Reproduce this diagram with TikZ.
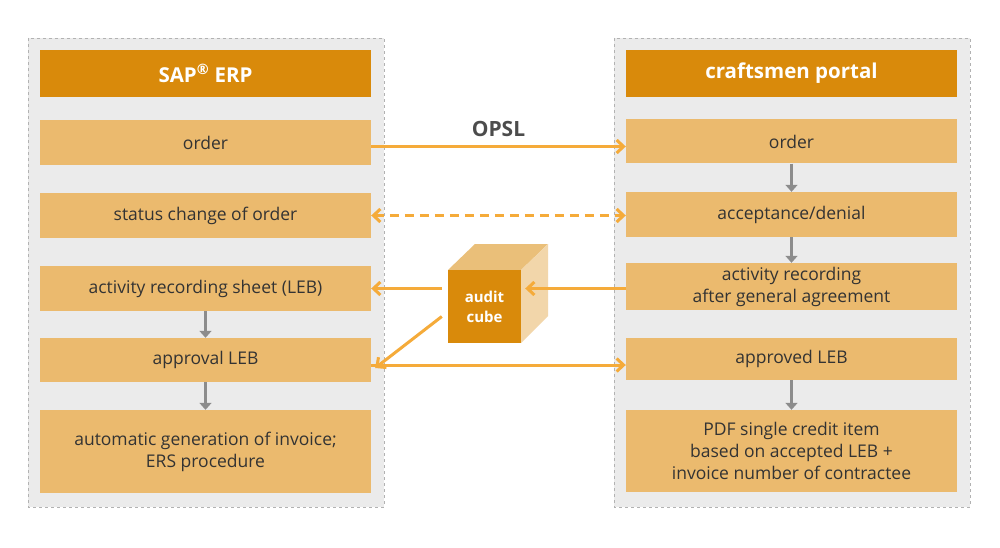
\documentclass[tikz,border=0pt]{standalone}
\usepackage{fontspec}
\setmainfont{Open Sans}
\usetikzlibrary{arrows.meta,positioning}
\definecolor{hdr}{HTML}{D98A0B}
\definecolor{boxc}{HTML}{EBBA6E}
\definecolor{panelc}{HTML}{EBEBEB}
\definecolor{flow}{HTML}{F5AB3A}
\definecolor{step}{HTML}{8C8C8C}
\tikzset{x=1pt, y=-1pt, font=\fontsize{17.5}{22}\selectfont}
\tikzset{panel/.style={draw=gray!60, dashed, fill=panelc, line width=0.6pt}}
\tikzset{head/.style={fill=hdr, text=white, font=\fontsize{20.5}{24}\selectfont\bfseries, minimum width=331pt, minimum height=47pt, inner sep=0pt}}
\tikzset{block/.style={fill=boxc, text=black!80, align=center, minimum width=331pt, inner sep=0pt}}
\tikzset{flowarr/.style={draw=flow, line width=3pt, -{Straight Barb[length=7pt,width=13pt]}}}
\tikzset{steparr/.style={draw=step, line width=3pt, -{Triangle[length=7pt,width=12pt]}}}
\begin{document}
\begin{tikzpicture}
\useasboundingbox (0,0) rectangle (1000,548);
\fill[white] (0,0) rectangle (1000,548);
\draw[panel] (28,38) rectangle (384,507);
\draw[panel] (614,38) rectangle (970,507);

% left column
\node[head] (sap) at (205.5,73.5) {SAP\textsuperscript{®} ERP};
\node[block, minimum height=45pt] (l_order) at (205.5,142.5) {order};
\node[block, minimum height=45pt] (l_status) at (205.5,215.5) {status change of order};
\node[block, minimum height=45pt] (l_leb) at (205.5,288.5) {activity recording sheet (LEB)};
\node[block, minimum height=44pt] (l_appr) at (205.5,360) {approval LEB};
\node[block, minimum height=83pt] (l_inv) at (205.5,451.5) {automatic generation of invoice;\\ERS procedure};

% right column
\node[head] (portal) at (791.5,73.5) {craftsmen portal};
\node[block, minimum height=44pt] (r_order) at (791.5,141.5) {order};
\node[block, minimum height=45pt] (r_acc) at (791.5,214.5) {acceptance/denial};
\node[block, minimum height=47pt] (r_rec) at (791.5,286.5) {activity recording\\after general agreement};
\node[block, minimum height=42pt] (r_appr) at (791.5,359) {approved LEB};
\node[block, minimum height=82pt] (r_pdf) at (791.5,451) {PDF single credit item\\based on accepted LEB +\\invoice number of contractee};

% audit cube
\fill[hdr!55!white] (448,270) -- (475,244) -- (548,244) -- (521,270) -- cycle;
\fill[hdr!35!white] (521,270) -- (548,244) -- (548,316) -- (521,343) -- cycle;
\node[fill=hdr, text=white, font=\fontsize{15}{20}\selectfont\bfseries, align=center,
  minimum width=73pt, minimum height=73pt, inner sep=0pt] (cube) at (484.5,306.5) {audit\\cube};

% flows
\coordinate (order_out) at ([yshift=-4pt]l_order.east);
\draw[flowarr] (order_out) -- node[above=5pt, font=\fontsize{21}{24}\selectfont\bfseries, text=black!70] {OPSL} (r_order.west |- order_out);
\draw[flowarr, dashed, dash pattern=on 9pt off 6pt, {Straight Barb[length=7pt,width=13pt]}-{Straight Barb[length=7pt,width=13pt]}] (l_status.east) -- (r_acc.west |- l_status.east);
\draw[flowarr] (r_rec.west |- l_leb.east) -- ([xshift=4pt]cube.east |- l_leb.east);
\draw[flowarr] ([xshift=-6pt]cube.west |- l_leb.east) -- (l_leb.east);
\draw[flowarr] ([xshift=-6pt,yshift=-10pt]cube.west) -- ([xshift=4pt,yshift=-8pt]l_appr.east);
\coordinate (appr_out) at ([yshift=-5pt]l_appr.east);
\draw[flowarr] (appr_out) -- (r_appr.west |- appr_out);

% steps
\draw[steparr] (l_leb) -- (l_appr);
\draw[steparr] (l_appr) -- (l_inv);
\draw[steparr] (r_order) -- (r_acc);
\draw[steparr] (r_acc) -- (r_rec);
\draw[steparr] (r_appr) -- (r_pdf);
\end{tikzpicture}
\end{document}
